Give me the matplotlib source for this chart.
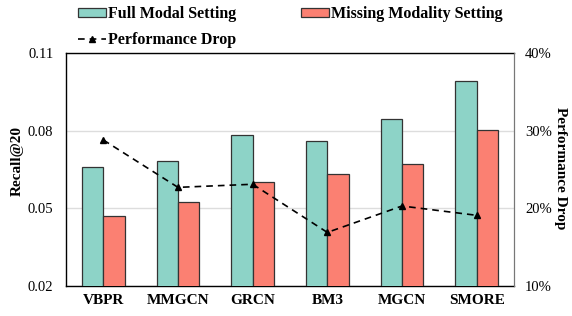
import matplotlib
matplotlib.use("Agg")
import matplotlib.pyplot as plt
import numpy as np
from matplotlib.ticker import FuncFormatter

models = ["VBPR", "MMGCN", "GRCN", "BM3", "MGCN", "SMORE"]
full_modal = [0.0661, 0.0682, 0.0782, 0.0761, 0.0844, 0.0993]
missing_modality = [0.0470, 0.0526, 0.0600, 0.0631, 0.0672, 0.0802]
perf_drop = [28.8, 22.7, 23.1, 16.9, 20.3, 19.1]
left_ticks = [0.02, 0.05, 0.08, 0.11]
right_ticks = [10, 20, 30, 40]

plt.rcParams['font.family'] = ['Liberation Serif', 'DejaVu Serif']

W, H = 572, 316
fig = plt.figure(figsize=(W / 100, H / 100), dpi=100)
ax = fig.add_axes([66 / W, 1 - 286 / H, 448 / W, 233 / H])
x = np.arange(len(models))
w = 0.285
b1 = ax.bar(x - w / 2, full_modal, w, color="#8DD3C7", edgecolor="#333333",
            linewidth=0.9, label="Full Modal Setting", zorder=3)
b2 = ax.bar(x + w / 2, missing_modality, w, color="#FB8072", edgecolor="#333333",
            linewidth=0.9, label="Missing Modality Setting", zorder=3)
ax.set_ylim(0.02, 0.11)
ax.set_xlim(-0.5, len(models) - 0.5)
ax.set_yticks(left_ticks)
ax.yaxis.set_major_formatter(FuncFormatter(lambda v, p: f"{v:.2f}"))
ax.set_xticks(x)
ax.set_xticklabels(models, fontweight="bold", fontsize=11)
ax.tick_params(axis="y", length=0, labelsize=10.5, pad=9)
ax.tick_params(axis="x", length=0, pad=6)
ax.grid(axis="y", color="#dddddd", linewidth=1, zorder=0)
for s in ["left", "bottom", "top"]:
    ax.spines[s].set_color("black")
    ax.spines[s].set_linewidth(1.0)
ax.spines["right"].set_color("#777777")

ax2 = ax.twinx()
ln, = ax2.plot(x, perf_drop, linestyle=(0, (4, 3)), color="black", linewidth=1.2,
               marker="^", markersize=5, label="Performance Drop", zorder=4)
ax2.set_ylim(10, 40)
ax2.set_yticks(right_ticks)
ax2.yaxis.set_major_formatter(FuncFormatter(lambda v, p: f"{int(v)}%"))
ax2.tick_params(axis="y", length=0, labelsize=10.5, pad=8)
ax2.spines["right"].set_color("#777777")
for s in ["left", "bottom", "top"]:
    ax2.spines[s].set_visible(False)

fig.text(17 / W, 1 - 161 / H, "Recall@20", rotation=90, ha="center", va="center",
         fontweight="bold", fontsize=11)
fig.text(561 / W, 1 - 168 / H, "Performance Drop", rotation=270, ha="center", va="center",
         fontweight="bold", fontsize=11)

fig.legend([b1, ln, b2], ["Full Modal Setting", "Performance Drop", "Missing Modality Setting"],
           loc="upper left", bbox_to_anchor=(78 / W, 1 - 6 / H), ncol=2, frameon=False,
           prop={"weight": "bold", "size": 11.5}, handlelength=1.75, handleheight=0.5,
           columnspacing=4.1, handletextpad=0.1, labelspacing=0.65, borderaxespad=0,
           borderpad=0)

fig.savefig("out.png", dpi=100)
